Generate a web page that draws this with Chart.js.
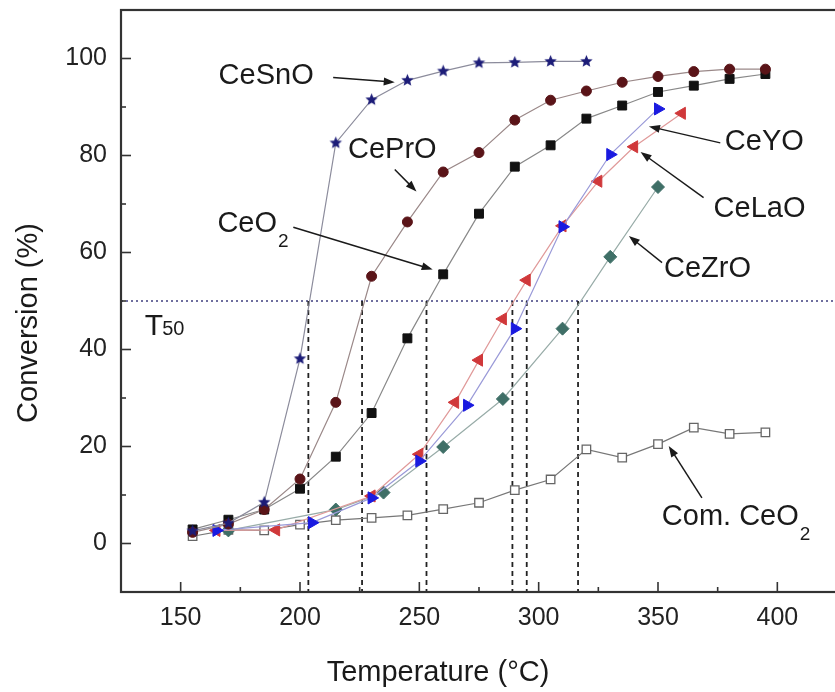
<!DOCTYPE html>
<html>
<head>
<meta charset="utf-8">
<script src="https://cdn.jsdelivr.net/npm/chart.js@4.4.0/dist/chart.umd.min.js"></script>
<style>
  html, body { margin: 0; padding: 0; background: #fff; overflow: hidden; }
  #wrap { width: 845px; height: 692px; }
</style>
</head>
<body>
<div id="wrap"><canvas id="chart"></canvas></div>
<script>
const FONT = '"Liberation Sans", Arial, sans-serif';

// axis ticks
const xTicks = [150, 200, 250, 300, 350, 400];
const xMinor = [175, 225, 275, 325, 375];
const yTicks = [0, 20, 40, 60, 80, 100];
const yMinor = [10, 30, 50, 70, 90];

// series (temperature in C, conversion in %)
const tempStd = [155, 170, 185, 200, 215, 230, 245, 260, 275, 290, 305, 320, 335, 350, 365, 380, 395];
const ceo2 = [2.9, 4.9, 7.0, 11.3, 17.9, 26.9, 42.3, 55.5, 68.0, 77.7, 82.1, 87.6, 90.3, 93.1, 94.4, 95.8, 96.8];
const ceprO = [2.3, 4.0, 7.0, 13.3, 29.1, 55.1, 66.3, 76.6, 80.6, 87.3, 91.4, 93.3, 95.1, 96.3, 97.3, 97.8, 97.8];

const cesnoT = [155, 170, 185, 200, 215, 230, 245, 260, 275, 290, 305, 320];
const cesno = [2.6, 4.2, 8.5, 38.1, 82.6, 91.5, 95.5, 97.4, 99.1, 99.2, 99.4, 99.4];

const ceyoT = [165, 205, 230, 250, 270, 290, 310, 330, 350];
const ceyo = [2.7, 4.3, 9.4, 17.0, 28.5, 44.3, 65.3, 80.2, 89.6];

const celaoT = [165, 190, 230, 250, 265, 275, 285, 295, 310, 325, 340, 360];
const celao = [2.7, 2.8, 9.8, 18.4, 29.1, 37.8, 46.3, 54.3, 65.5, 74.7, 81.8, 88.7];

const cezroT = [170, 215, 235, 260, 285, 310, 330, 350];
const cezro = [2.7, 7.0, 10.5, 19.9, 29.8, 44.3, 59.1, 73.5];

const comCeo2 = [1.5, 2.8, 2.7, 3.9, 4.8, 5.3, 5.8, 7.1, 8.4, 11.0, 13.2, 19.4, 17.7, 20.5, 23.9, 22.6, 22.9];

// T50 read-offs
const t50 = [203.5, 226, 253, 289, 295, 316.5];
const t50Level = 50;

// annotation labels (data coords)
const notes = [
  { text: "CeSnO", at: [165.9, 96.3], from: [213.9, 96.1], to: [239.7, 95.1] },
  { text: "CePrO", at: [220.1, 81.2], from: [239.7, 77.1], to: [248.8, 72.6] },
  { text: "CeO", sub: "2", at: [165.4, 65.8], from: [197.2, 65.2], to: [255.6, 56.5] },
  { text: "CeYO", at: [378.0, 82.7], from: [376.1, 82.6], to: [346.2, 86.0] },
  { text: "CeLaO", at: [373.3, 68.9], from: [369.1, 71.3], to: [342.7, 80.7] },
  { text: "CeZrO", at: [352.5, 56.5], from: [351.7, 57.9], to: [337.8, 63.4] },
  { text: "Com. CeO", sub: "2", at: [351.6, 5.4], from: [368.4, 9.4], to: [354.5, 20.1] }
];

function pts(xs, ys) {
  return xs.map((x, i) => ({ x: x, y: ys[i] }));
}

function starMarker(color, r) {
  const s = Math.ceil(r * 2 + 2);
  const c = document.createElement("canvas");
  c.width = s;
  c.height = s;
  const g = c.getContext("2d");
  g.beginPath();
  for (let i = 0; i < 10; i++) {
    const rad = i % 2 ? r * 0.45 : r;
    const a = -Math.PI / 2 + i * Math.PI / 5;
    g.lineTo(s / 2 + rad * Math.cos(a), s / 2 + rad * Math.sin(a));
  }
  g.closePath();
  g.fillStyle = color;
  g.fill();
  return c;
}

function series(data, lineColor, style, fill, stroke, radius, extra) {
  return Object.assign({
    data: data,
    borderColor: lineColor,
    borderWidth: 1.2,
    pointStyle: style,
    pointBackgroundColor: fill,
    pointBorderColor: stroke,
    pointBorderWidth: 1,
    pointRadius: radius,
    tension: 0,
    fill: false
  }, extra || {});
}

const datasets = [
  series(pts(cesnoT, cesno), "#8c8c9c", starMarker("#1c1c78", 6.5), "#1c1c78", "#1c1c78", 6.5),
  series(pts(tempStd, ceprO), "#9a8888", "circle", "#5a1418", "#5a1418", 5),
  series(pts(tempStd, ceo2), "#888888", "rect", "#111111", "#111111", 6.3),
  series(pts(ceyoT, ceyo), "#9a9ad8", "triangle", "#1a1ae0", "#1a1ae0", 7, { pointRotation: 90 }),
  series(pts(celaoT, celao), "#e09a9a", "triangle", "#d0383a", "#d0383a", 7, { pointRotation: -90 }),
  series(pts(cezroT, cezro), "#98aca8", "rectRot", "#3f6f67", "#3f6f67", 6.5),
  series(pts(tempStd, comCeo2), "#777777", "rect", "#ffffff", "#666666", 6, { pointBorderWidth: 1.3 })
];

t50.forEach(t => {
  datasets.push({
    data: [{ x: t, y: t50Level }, { x: t, y: -10 }],
    borderColor: "#222",
    borderWidth: 1.8,
    borderDash: [5, 4],
    pointRadius: 0
  });
});

datasets.push({
  data: [{ x: 125, y: t50Level }, { x: 425, y: t50Level }],
  borderColor: "#6e6e9e",
  borderWidth: 2,
  borderDash: [2, 3],
  pointRadius: 0
});

function arrow(ctx, x0, y0, x1, y1) {
  const a = Math.atan2(y1 - y0, x1 - x0);
  const len = 11, half = 4;
  ctx.beginPath();
  ctx.moveTo(x0, y0);
  ctx.lineTo(x1 - Math.cos(a) * len * 0.8, y1 - Math.sin(a) * len * 0.8);
  ctx.stroke();
  ctx.beginPath();
  ctx.moveTo(x1, y1);
  ctx.lineTo(x1 - Math.cos(a) * len - Math.sin(a) * half, y1 - Math.sin(a) * len + Math.cos(a) * half);
  ctx.lineTo(x1 - Math.cos(a) * len + Math.sin(a) * half, y1 - Math.sin(a) * len - Math.cos(a) * half);
  ctx.closePath();
  ctx.fill();
}

const decor = {
  id: "decor",
  afterDatasetsDraw(chart) {
    const ctx = chart.ctx;
    const xs = chart.scales.x, ys = chart.scales.y;
    ctx.save();
    ctx.fillStyle = "#1a1a1a";
    ctx.strokeStyle = "#1a1a1a";
    ctx.lineWidth = 1.5;
    notes.forEach(n => {
      arrow(ctx, xs.getPixelForValue(n.from[0]), ys.getPixelForValue(n.from[1]),
        xs.getPixelForValue(n.to[0]), ys.getPixelForValue(n.to[1]));
      const tx = xs.getPixelForValue(n.at[0]);
      const ty = ys.getPixelForValue(n.at[1]);
      ctx.font = "29px " + FONT;
      ctx.textAlign = "left";
      ctx.textBaseline = "middle";
      ctx.fillText(n.text, tx, ty);
      if (n.sub) {
        const w = ctx.measureText(n.text).width;
        ctx.font = "19px " + FONT;
        ctx.fillText(n.sub, tx + w + 1, ty + 17);
      }
    });
    // T50 label
    const lx = xs.getPixelForValue(135.0);
    const ly = ys.getPixelForValue(45.3);
    ctx.textBaseline = "alphabetic";
    ctx.font = "30px " + FONT;
    ctx.fillText("T", lx, ly + 11);
    const tw = ctx.measureText("T").width;
    ctx.font = "20px " + FONT;
    ctx.fillText("50", lx + tw - 1, ly + 11);
    ctx.restore();
  },
  afterDraw(chart) {
    const ctx = chart.ctx;
    const a = chart.chartArea;
    const xs = chart.scales.x, ys = chart.scales.y;
    ctx.save();
    ctx.strokeStyle = "#333";
    ctx.lineWidth = 1.6;
    xTicks.concat(xMinor).forEach(v => {
      const p = xs.getPixelForValue(v);
      const l = xTicks.includes(v) ? 10 : 5;
      ctx.beginPath();
      ctx.moveTo(p, a.bottom);
      ctx.lineTo(p, a.bottom - l);
      ctx.stroke();
    });
    yTicks.concat(yMinor).forEach(v => {
      const p = ys.getPixelForValue(v);
      const l = yTicks.includes(v) ? 10 : 5;
      ctx.beginPath();
      ctx.moveTo(a.left, p);
      ctx.lineTo(a.left + l, p);
      ctx.stroke();
    });
    ctx.lineWidth = 2.2;
    ctx.strokeRect(a.left, a.top, a.right - a.left, a.bottom - a.top);

    ctx.fillStyle = "#1a1a1a";
    ctx.font = "29px " + FONT;
    ctx.textAlign = "center";
    ctx.textBaseline = "middle";
    ctx.fillText("Temperature (\u00B0C)", 438, 673);
    ctx.translate(29, 323);
    ctx.rotate(-Math.PI / 2);
    ctx.fillText("Conversion (%)", 0, 0);
    ctx.restore();
  }
};

new Chart(document.getElementById("chart"), {
  type: "line",
  data: { datasets: datasets },
  plugins: [decor],
  options: {
    responsive: true,
    maintainAspectRatio: false,
    animation: false,
    layout: { padding: { top: 10, right: 6, left: 0, bottom: 0 } },
    plugins: {
      legend: { display: false },
      tooltip: { enabled: false }
    },
    scales: {
      x: {
        type: "linear",
        min: 125,
        max: 425,
        afterBuildTicks: s => { s.ticks = xTicks.map(v => ({ value: v })); },
        afterFit: s => {
          s.height = 100;
          s.paddingLeft = 0;
          s.paddingRight = 0;
        },
        grid: { display: false, drawTicks: false },
        border: { display: false },
        ticks: {
          padding: 11,
          color: "#222",
          font: { family: FONT, size: 25 }
        }
      },
      y: {
        type: "linear",
        min: -10,
        max: 110,
        afterBuildTicks: s => { s.ticks = yTicks.map(v => ({ value: v })); },
        afterFit: s => {
          s.width = 121;
          s.paddingTop = 0;
          s.paddingBottom = 0;
        },
        grid: { display: false, drawTicks: false },
        border: { display: false },
        ticks: {
          padding: 14,
          color: "#222",
          font: { family: FONT, size: 25 }
        }
      }
    }
  }
});
</script>
</body>
</html>
